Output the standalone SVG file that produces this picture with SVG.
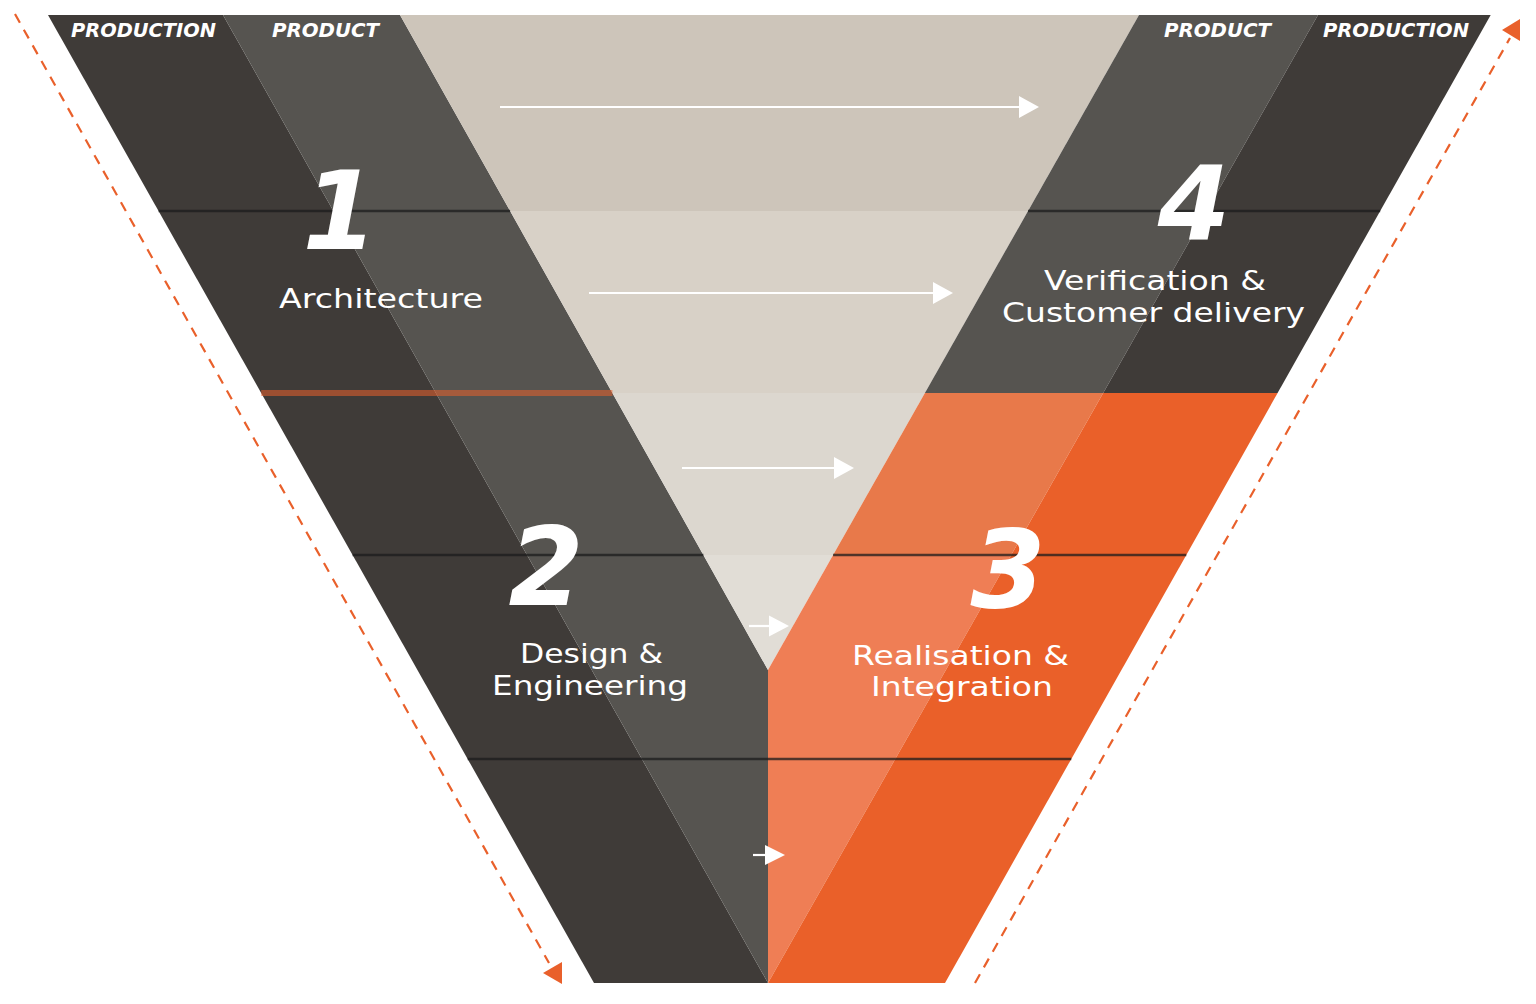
<svg xmlns="http://www.w3.org/2000/svg" width="1536" height="1004" viewBox="0 0 1536 1004">
<style>
.dark{fill:#3f3b38}
.mid{fill:#565450}
.b1{fill:#cdc5ba}.b2{fill:#d8d1c7}.b3{fill:#dcd7cf}.b4{fill:#e1ddd6}
.or1{fill:#e8794a}.or2{fill:#ef7e55}.ord{fill:#ea6029}
.row{stroke:#1c1c1c;stroke-opacity:0.75;stroke-width:2.5;fill:none}
.orow{stroke:#e9602b;stroke-opacity:0.55;stroke-width:6;fill:none}
.hdr{font-family:"DejaVu Sans",sans-serif;font-weight:bold;font-style:oblique;font-size:19px;fill:#ffffff}
.num{font-family:"DejaVu Sans",sans-serif;font-weight:bold;font-style:oblique;font-size:108px;fill:#ffffff;text-anchor:middle}
.lbl{font-family:"DejaVu Sans",sans-serif;font-size:27px;fill:#ffffff}
.flow{stroke:#ffffff;stroke-width:2.2;fill:none}
.head{fill:#ffffff}
.dash{stroke:#e9602b;stroke-width:2.2;stroke-dasharray:10 8;fill:none}
.dhead{fill:#e9602b}
</style>
<rect width="1536" height="1004" fill="#ffffff"/>
<g id="v-shape">
  <polygon class="dark" points="48,15 223,15 768,983 594,983"/>
  <polygon class="mid" points="223,15 400,15 768,670 768,983"/>
  <polygon class="b1" points="400,15 1139,15 1028,211 510.1,211"/>
  <polygon class="b2" points="510.1,211 1028,211 924.9,393 612.4,393"/>
  <polygon class="b3" points="612.4,393 924.9,393 833.1,555 703.4,555"/>
  <polygon class="b4" points="703.4,555 833.1,555 768,670"/>
  <polygon class="mid" points="1139,15 1318,15 1103.2,393 924.9,393"/>
  <polygon class="dark" points="1318,15 1490.7,15 1277.6,393 1103.2,393"/>
  <polygon class="or1" points="924.9,393 1103.2,393 1011.2,555 833.1,555"/>
  <polygon class="ord" points="1103.2,393 1277.6,393 1186.3,555 1011.2,555"/>
  <polygon class="or2" points="833.1,555 1011.2,555 768,983 768,670"/>
  <polygon class="ord" points="1011.2,555 1186.3,555 945,983 768,983"/>
  <line class="row" x1="158.6" y1="211" x2="510.1" y2="211"/>
  <line class="row" x1="1028" y1="211" x2="1380.2" y2="211"/>
  <line class="orow" x1="261.2" y1="393" x2="612.4" y2="393"/>
  <line class="row" x1="352.6" y1="555" x2="703.4" y2="555"/>
  <line class="row" x1="833.1" y1="555" x2="1186.3" y2="555"/>
  <line class="row" x1="467.7" y1="759" x2="1071.3" y2="759"/>
</g>
<g id="headers">
  <text class="hdr" x="71" y="37" textLength="145" lengthAdjust="spacingAndGlyphs">PRODUCTION</text>
  <text class="hdr" x="272" y="37" textLength="107" lengthAdjust="spacingAndGlyphs">PRODUCT</text>
  <text class="hdr" x="1164" y="37" textLength="107" lengthAdjust="spacingAndGlyphs">PRODUCT</text>
  <text class="hdr" x="1323" y="37" textLength="146" lengthAdjust="spacingAndGlyphs">PRODUCTION</text>
</g>
<g id="phase1">
  <text class="num" x="340" y="249">1</text>
  <text class="lbl" x="279" y="308" textLength="204" lengthAdjust="spacingAndGlyphs">Architecture</text>
</g>
<g id="phase2">
  <text class="num" x="546" y="605">2</text>
  <text class="lbl"><tspan x="520" y="663" textLength="143" lengthAdjust="spacingAndGlyphs">Design &amp;</tspan><tspan x="492" y="694.5" textLength="196" lengthAdjust="spacingAndGlyphs">Engineering</tspan></text>
</g>
<g id="phase3">
  <text class="num" x="1008" y="607">3</text>
  <text class="lbl"><tspan x="852" y="664.5" textLength="217" lengthAdjust="spacingAndGlyphs">Realisation &amp;</tspan><tspan x="871" y="696" textLength="182" lengthAdjust="spacingAndGlyphs">Integration</tspan></text>
</g>
<g id="phase4">
  <text class="num" x="1194" y="240" style="font-size:104px">4</text>
  <text class="lbl"><tspan x="1044" y="290" textLength="222" lengthAdjust="spacingAndGlyphs">Verification &amp;</tspan><tspan x="1002" y="321.5" textLength="303" lengthAdjust="spacingAndGlyphs">Customer delivery</tspan></text>
</g>
<g id="connectors">
  <line class="flow" x1="500" y1="107" x2="1021" y2="107"/>
  <polygon class="head" points="1019,96 1039,107 1019,118"/>
  <line class="flow" x1="589" y1="293" x2="935" y2="293"/>
  <polygon class="head" points="933,282 953,293 933,304"/>
  <line class="flow" x1="682" y1="468" x2="836" y2="468"/>
  <polygon class="head" points="834,457 854,468 834,479"/>
  <line class="flow" x1="749" y1="626" x2="771" y2="626"/>
  <polygon class="head" points="769,615.5 789,626 769,636.5"/>
  <line class="flow" x1="753" y1="855" x2="767" y2="855"/>
  <polygon class="head" points="765,845 785,855 765,865"/>
  <line class="dash" x1="15" y1="14" x2="549" y2="963"/>
  <polygon class="dhead" points="543,973 562,962 562,984"/>
  <line class="dash" x1="975" y1="983" x2="1510" y2="38"/>
  <polygon class="dhead" points="1502,30 1520,19 1520,41"/>
</g>
</svg>
